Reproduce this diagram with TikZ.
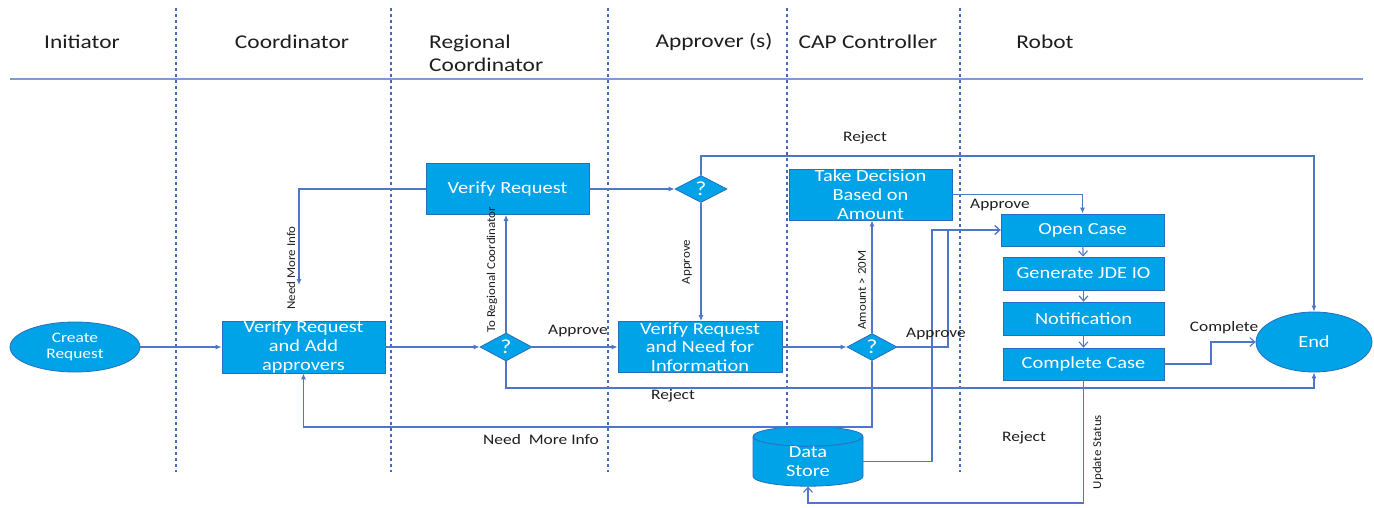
\documentclass[tikz,border=0pt]{standalone}
\usepackage{fontspec}
\setmainfont{Carlito}[FakeStretch=1.2]
\newfontfamily\rotfamily{Carlito}[FakeStretch=1.08]
\usetikzlibrary{arrows.meta,shapes.geometric}
\definecolor{boxfill}{RGB}{0,162,232}
\definecolor{boxborder}{RGB}{40,110,190}
\definecolor{conn}{RGB}{80,118,200}
\definecolor{lanecol}{RGB}{70,105,190}
\definecolor{hlinecol}{RGB}{125,155,210}
\definecolor{lblcol}{RGB}{30,30,30}
\newcommand\hdrF{\fontsize{19.5}{23}\selectfont}
\newcommand\boxF{\fontsize{17}{18.7}\selectfont}
\newcommand\lblF{\fontsize{14.5}{16}\selectfont}
\newcommand\rotF{\rotfamily\fontsize{12}{14}\selectfont}
\newcommand\ellF{\fontsize{14.5}{16.5}\selectfont}
\tikzset{
  box/.style={rectangle, draw=boxborder, fill=boxfill, text=white, inner sep=0pt, align=center, font=\boxF, line width=0.8pt},
  ell/.style={ellipse, draw=boxborder, fill=boxfill, text=white, inner sep=0pt, align=center, line width=0.8pt},
  dia/.style={diamond, draw=boxborder, fill=boxfill, text=white, inner sep=0pt, font=\fontsize{20}{20}\selectfont, line width=0.8pt},
  arr/.style={draw=conn, line width=1.1pt, -{Latex[length=6pt,width=5pt]}},
  arro/.style={draw=conn, line width=1.1pt, -{Straight Barb[length=5pt,width=9pt]}},
  hdr/.style={text=lblcol, font=\hdrF, inner sep=0pt},
  lbl/.style={text=lblcol, font=\lblF, inner sep=0pt},
  rlbl/.style={text=lblcol, font=\rotF, inner sep=0pt, rotate=90},
  lane/.style={draw=lanecol, line width=1.2pt, dash pattern=on 3pt off 3pt},
}
\begin{document}
\begin{tikzpicture}[x=1pt,y=-1pt]
\useasboundingbox (0,0) rectangle (1374,508);
% lanes and header line
\foreach \lx in {176,391,608,787,960} \draw[lane] (\lx,8) -- (\lx,472);
\draw[draw=hlinecol, line width=1.5pt] (10,79) -- (1363,79);
% headers
\node[hdr] (h1) at (82,42) {Initiator};
\node[hdr] (h2) at (292,42) {Coordinator};
\node[hdr, anchor=west, align=left, font=\fontsize{19.5}{23}\selectfont] (h3) at (429,53.5) {Regional\\Coordinator};
\node[hdr] (h4) at (714,42) {Approver (s)};
\node[hdr] (h5) at (868,42) {CAP Controller};
\node[hdr] (h6) at (1045,42) {Robot};
% nodes
\node[ell, font=\ellF, minimum width=130, minimum height=50] (create) at (75,347) {Create\\Request};
\node[box, minimum width=163, minimum height=52] (vadd) at (303.5,347) {Verify Request\\and Add\\approvers};
\node[dia, minimum width=52, minimum height=28] (d1) at (506,347) {?};
\node[box, minimum width=163, minimum height=51] (vreq) at (507.5,189) {Verify Request};
\node[dia, minimum width=52, minimum height=27] (d2) at (701,189) {?};
\node[box, minimum width=164, minimum height=51] (vneed) at (700,347) {Verify Request\\and Need for\\Information};
\node[dia, minimum width=50, minimum height=27] (d3) at (872,347) {?};
\node[box, minimum width=163, minimum height=51] (take) at (870.5,194.5) {Take Decision\\Based on\\Amount};
\node[box, minimum width=163, minimum height=32] (open) at (1082.5,230) {Open Case};
\node[box, minimum width=161, minimum height=33] (gen) at (1083.5,273.5) {Generate JDE IO};
\node[box, minimum width=161, minimum height=33] (notif) at (1083.5,318.5) {Notification};
\node[box, minimum width=161, minimum height=32] (comp) at (1083.5,364) {Complete Case};
\node[ell, font=\fontsize{17}{19}\selectfont, minimum width=116, minimum height=60] (end) at (1314,342) {End};
\node[cylinder, shape border rotate=90, shape aspect=0.45, draw=boxborder, fill=boxfill, text=white, inner sep=0pt, align=center, font=\boxF, minimum width=110, minimum height=51, line width=0.8pt] (ds) at (808,461.5) {Data\\Store};
% coordinates
\coordinate (nmi) at (299,285);
\coordinate (rj1) at (701,156);
\coordinate (rj2) at (506,388);
\coordinate (nm2) at (303.5,427);
\coordinate (ap1) at (948,230);
\coordinate (ap2) at (932,230);
\coordinate (cc) at (1211,342);
\coordinate (us) at (1083.5,503);
% connectors
\draw[arr] (create) -- (vadd);
\draw[arr] (vadd) -- (d1);
\draw[arr] (d1.north) -- (d1.north |- vreq.south);
\draw[arr] (vreq.west) -| (nmi);
\draw[arr] (vreq.east) -- (d2.west);
\draw[arr] (d2.north) -- (rj1) -| (end.north);
\draw[arr] (d2.south) -- (d2.south |- vneed.north);
\draw[arr] (d1.east) -- (vneed.west);
\draw[arr] (d1.south) -- (rj2) -| (end.south);
\draw[arr] (vneed.east) -- (d3.west);
\draw[arr] (d3.north) -- (d3.north |- take.south);
\draw[arro] (d3.east) -| (ap1) -- (open.west);
\draw[arro] (ds.east) -| (ap2) -- (open.west);
\draw[arr] (take.east) -| (open.north);
\draw[arro] (open) -- (gen);
\draw[arro] (gen) -- (notif);
\draw[arro] (notif) -- (comp);
\draw[arro] (comp.east) -| (cc) -- (end.west);
\draw[arro] (comp.south) -- (us) -| (ds.south);
\draw[arr] (d3.south) |- (nm2) -- (vadd.south);
% labels
\node[rlbl, anchor=west] (l1) at (492,333) {To Regional Coordinator};
\node[rlbl] (l2) at (291,268) {Need More Info};
\node[lbl] (l3) at (865,138) {Reject};
\node[rlbl] (l4) at (687,262) {Approve};
\node[lbl] (l5) at (578,331) {Approve};
\node[lbl] (l6) at (673,396) {Reject};
\node[rlbl] (l7) at (862,290) {Amount > 20M};
\node[lbl] (l8) at (936,334) {Approve};
\node[lbl] (l9) at (1000,205) {Approve};
\node[lbl] (l10) at (1224,328) {Complete};
\node[lbl] (l11) at (541,440) {Need\ \ More Info};
\node[lbl] (l12) at (1024,438) {Reject};
\node[rlbl] (l13) at (1098,452) {Update Status};
\end{tikzpicture}
\end{document}
